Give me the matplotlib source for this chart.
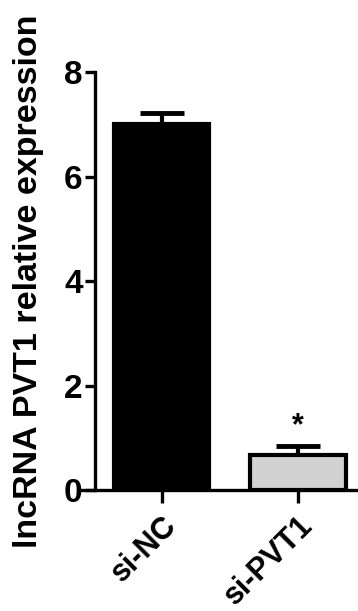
import numpy as np
import matplotlib.pyplot as plt

plt.rcParams['font.family'] = ['Liberation Sans', 'DejaVu Sans']
plt.rcParams['font.weight'] = 'bold'

# data
groups = ['si-NC', 'si-PVT1']
means = [7.0, 0.67]
errs = [0.22, 0.18]
colors = ['black', '#d2d2d2']
ylabel = 'lncRNA PVT1 relative expression'

fig = plt.figure(figsize=(3.58, 6.11), dpi=100)
ax = fig.add_axes([0.2235, 0.198, 0.7765, 0.684])

x = np.arange(len(groups))
ax.bar(x, means, width=0.7, color=colors, edgecolor='black', linewidth=3, zorder=2)
ax.errorbar(x, means, yerr=[np.zeros(len(errs)), errs], fmt='none', ecolor='black',
            elinewidth=3, capsize=16, capthick=3.5, zorder=1)

# significance mark
ax.text(x[1], means[1] + errs[1] + 0.08, '*', ha='center', va='bottom', fontsize=22, fontweight='bold')

ax.set_xlim(-0.6, 1.44)
ax.set_ylim(0, 8)
ax.set_yticks([0, 2, 4, 6, 8])
ax.spines['left'].set_position(('data', -0.49))
ax.spines['top'].set_visible(False)
ax.spines['right'].set_visible(False)
ax.spines['left'].set_linewidth(2.4)
ax.spines['bottom'].set_linewidth(2.4)
ax.tick_params(axis='both', width=2.4, length=7, labelsize=24, pad=2)
ax.tick_params(axis='x', length=9, pad=6)
ax.set_xticks(x)
ax.set_xticklabels(groups, rotation=45, ha='right', rotation_mode='anchor', fontsize=22)
ax.set_ylabel(ylabel, fontsize=24.5, fontweight='bold')
ax.yaxis.set_label_coords(-0.13, 0.5)

fig.savefig('out.png', dpi=100)
